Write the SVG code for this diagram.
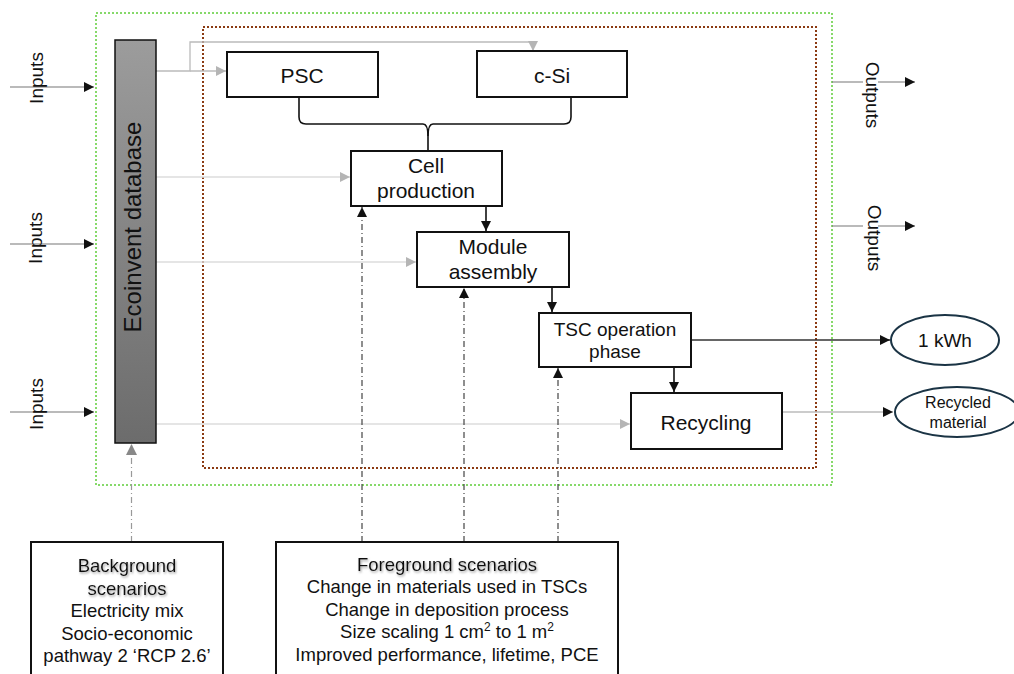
<svg xmlns="http://www.w3.org/2000/svg" width="1014" height="674" viewBox="0 0 1014 674">
<style>
text{font-family:"Liberation Sans",Arial,sans-serif;fill:#111}
.box{fill:#fff;stroke:#111;stroke-width:2}
.big{font-size:21px;text-anchor:middle}
.mid{font-size:19px;text-anchor:middle}
.sc{font-size:18.5px;text-anchor:middle}
.lt{fill:none;stroke:#bbb;stroke-width:1.3}
.lt2{fill:none;stroke:#ddd;stroke-width:1.5}
.flow{fill:none;stroke:#111;stroke-width:1.6}
.dd{fill:none;stroke:#444;stroke-width:1.2;stroke-dasharray:6 3 1 3}
.ddl{fill:none;stroke:#999;stroke-width:1.2;stroke-dasharray:6 3 1 3}
.io{fill:none;stroke:#777;stroke-width:1.2}
.ell{fill:#fff;stroke:#1b3445;stroke-width:2}
</style>
<defs>
<marker id="ab" viewBox="0 0 10 10" refX="10" refY="5" markerWidth="10" markerHeight="10" markerUnits="userSpaceOnUse" orient="auto"><path d="M0,0L10,5L0,10z" fill="#111"/></marker>
<marker id="ag" viewBox="0 0 10 10" refX="10" refY="5" markerWidth="10" markerHeight="10" markerUnits="userSpaceOnUse" orient="auto"><path d="M0,0L10,5L0,10z" fill="#b5b5b5"/></marker>
<marker id="ag2" viewBox="0 0 10 10" refX="10" refY="5" markerWidth="11" markerHeight="11" markerUnits="userSpaceOnUse" orient="auto"><path d="M0,0L10,5L0,10z" fill="#888"/></marker>
<linearGradient id="db" x1="0" y1="0" x2="0" y2="1"><stop offset="0" stop-color="#9c9c9c"/><stop offset="1" stop-color="#6c6c6c"/></linearGradient>
<filter id="sh" x="-10%" y="-30%" width="120%" height="160%"><feDropShadow dx="1" dy="1.5" stdDeviation="1" flood-color="#777" flood-opacity="0.7"/></filter>
</defs>

<g id="boundaries">
<rect x="96" y="13" width="736" height="472" fill="none" stroke="#86d96a" stroke-width="2" stroke-dasharray="2 2"/>
<rect x="203" y="27" width="613" height="441" fill="none" stroke="#8b3a12" stroke-width="2" stroke-dasharray="2 2"/>
</g>

<g id="connectors">
<!-- ecoinvent feeds -->
<path class="lt" d="M156,71 H190 V42 H533 V51" marker-end="url(#ag)"/>
<path class="lt" d="M190,71 H226" marker-end="url(#ag)"/>
<path class="lt2" d="M156,177 H350" marker-end="url(#ag)"/>
<path class="lt2" d="M156,262 H416" marker-end="url(#ag)"/>
<path class="lt2" d="M156,424 H630" marker-end="url(#ag)"/>
<!-- bracket -->
<path class="flow" d="M299,97 V117 Q299,124 306,124 H423 Q428,124 428,136 V151"/>
<path class="flow" d="M571,97 V117 Q571,124 564,124 H433 Q428,124 428,136"/>
<!-- process flow -->
<path class="flow" d="M486,206 V231" marker-end="url(#ab)"/>
<path class="flow" d="M552,287 V312" marker-end="url(#ab)"/>
<path class="flow" d="M674,367 V392" marker-end="url(#ab)"/>
<path fill="none" stroke="#333" stroke-width="1.6" d="M691,340 H890" marker-end="url(#ab)"/>
<path fill="none" stroke="#bbb" stroke-width="1.5" d="M782,412 H893" marker-end="url(#ab)"/>
<!-- inputs -->
<path class="io" d="M10,87 H94" marker-end="url(#ab)"/>
<path class="io" d="M10,244 H94" marker-end="url(#ab)"/>
<path class="io" d="M10,412 H94" marker-end="url(#ab)"/>
<!-- outputs -->
<path class="io" d="M832,82 H863 M878,82 H915" marker-end="url(#ab)"/>
<path class="io" d="M832,226 H863 M878,226 H915" marker-end="url(#ab)"/>
<!-- scenarios -->
<path class="ddl" d="M131.5,542 V444" marker-end="url(#ag2)"/>
<path class="dd" d="M362,542 V207" marker-end="url(#ab)"/>
<path class="dd" d="M464,542 V288" marker-end="url(#ab)"/>
<path class="dd" d="M558,542 V368" marker-end="url(#ab)"/>
</g>

<g id="labels-io">
<text class="mid" transform="translate(43,78) rotate(-90)">Inputs</text>
<text class="mid" transform="translate(42,238) rotate(-90)">Inputs</text>
<text class="mid" transform="translate(43,404) rotate(-90)">Inputs</text>
<text class="mid" transform="translate(866,95) rotate(90)">Outputs</text>
<text class="mid" transform="translate(868,238) rotate(90)">Outputs</text>
</g>

<g id="ecoinvent">
<rect x="115" y="40" width="41" height="403" fill="url(#db)" stroke="#111" stroke-width="1.5"/>
<text transform="translate(141,227) rotate(-90)" style="font-size:24px;text-anchor:middle">Ecoinvent database</text>
</g>

<g id="psc">
<rect class="box" x="227" y="52" width="151" height="45"/>
<text class="big" x="302" y="83">PSC</text>
</g>
<g id="csi">
<rect class="box" x="477" y="51" width="150" height="46"/>
<text class="big" x="552" y="83">c-Si</text>
</g>
<g id="cell">
<rect class="box" x="351" y="151" width="151" height="55"/>
<text class="big" x="426" y="173">Cell</text>
<text class="big" x="426" y="198">production</text>
</g>
<g id="module">
<rect class="box" x="417" y="232" width="152" height="55"/>
<text class="big" x="493" y="254">Module</text>
<text class="big" x="493" y="279">assembly</text>
</g>
<g id="tsc">
<rect class="box" x="539" y="313" width="152" height="54"/>
<text class="mid" x="615" y="336">TSC operation</text>
<text class="mid" x="615" y="358">phase</text>
</g>
<g id="recycling">
<rect class="box" x="631" y="393" width="151" height="56"/>
<text class="big" x="706" y="430">Recycling</text>
</g>
<g id="kwh">
<ellipse class="ell" cx="945" cy="340" rx="54" ry="25"/>
<text class="mid" x="945" y="347">1 kWh</text>
</g>
<g id="recycled">
<ellipse class="ell" cx="957" cy="412" rx="62" ry="25"/>
<text x="958" y="408" style="font-size:16px;text-anchor:middle">Recycled</text>
<text x="958" y="428" style="font-size:16px;text-anchor:middle">material</text>
</g>

<g id="background-scenarios">
<rect class="box" x="31" y="542" width="192" height="140"/>
<text class="sc" x="127" y="572" filter="url(#sh)">Background</text>
<text class="sc" x="127" y="595" filter="url(#sh)">scenarios</text>
<text class="sc" x="127" y="617">Electricity mix</text>
<text class="sc" x="127" y="640">Socio-economic</text>
<text class="sc" x="127" y="662">pathway 2 ‘RCP 2.6’</text>
</g>
<g id="foreground-scenarios">
<rect class="box" x="276" y="542" width="342" height="140"/>
<text class="sc" x="447" y="571" filter="url(#sh)">Foreground scenarios</text>
<text class="sc" x="447" y="593">Change in materials used in TSCs</text>
<text class="sc" x="447" y="616">Change in deposition process</text>
<text class="sc" x="447" y="638">Size scaling 1 cm<tspan dy="-7" font-size="12">2</tspan><tspan dy="7"> to 1 m</tspan><tspan dy="-7" font-size="12">2</tspan></text>
<text class="sc" x="447" y="661">Improved performance, lifetime, PCE</text>
</g>
</svg>
